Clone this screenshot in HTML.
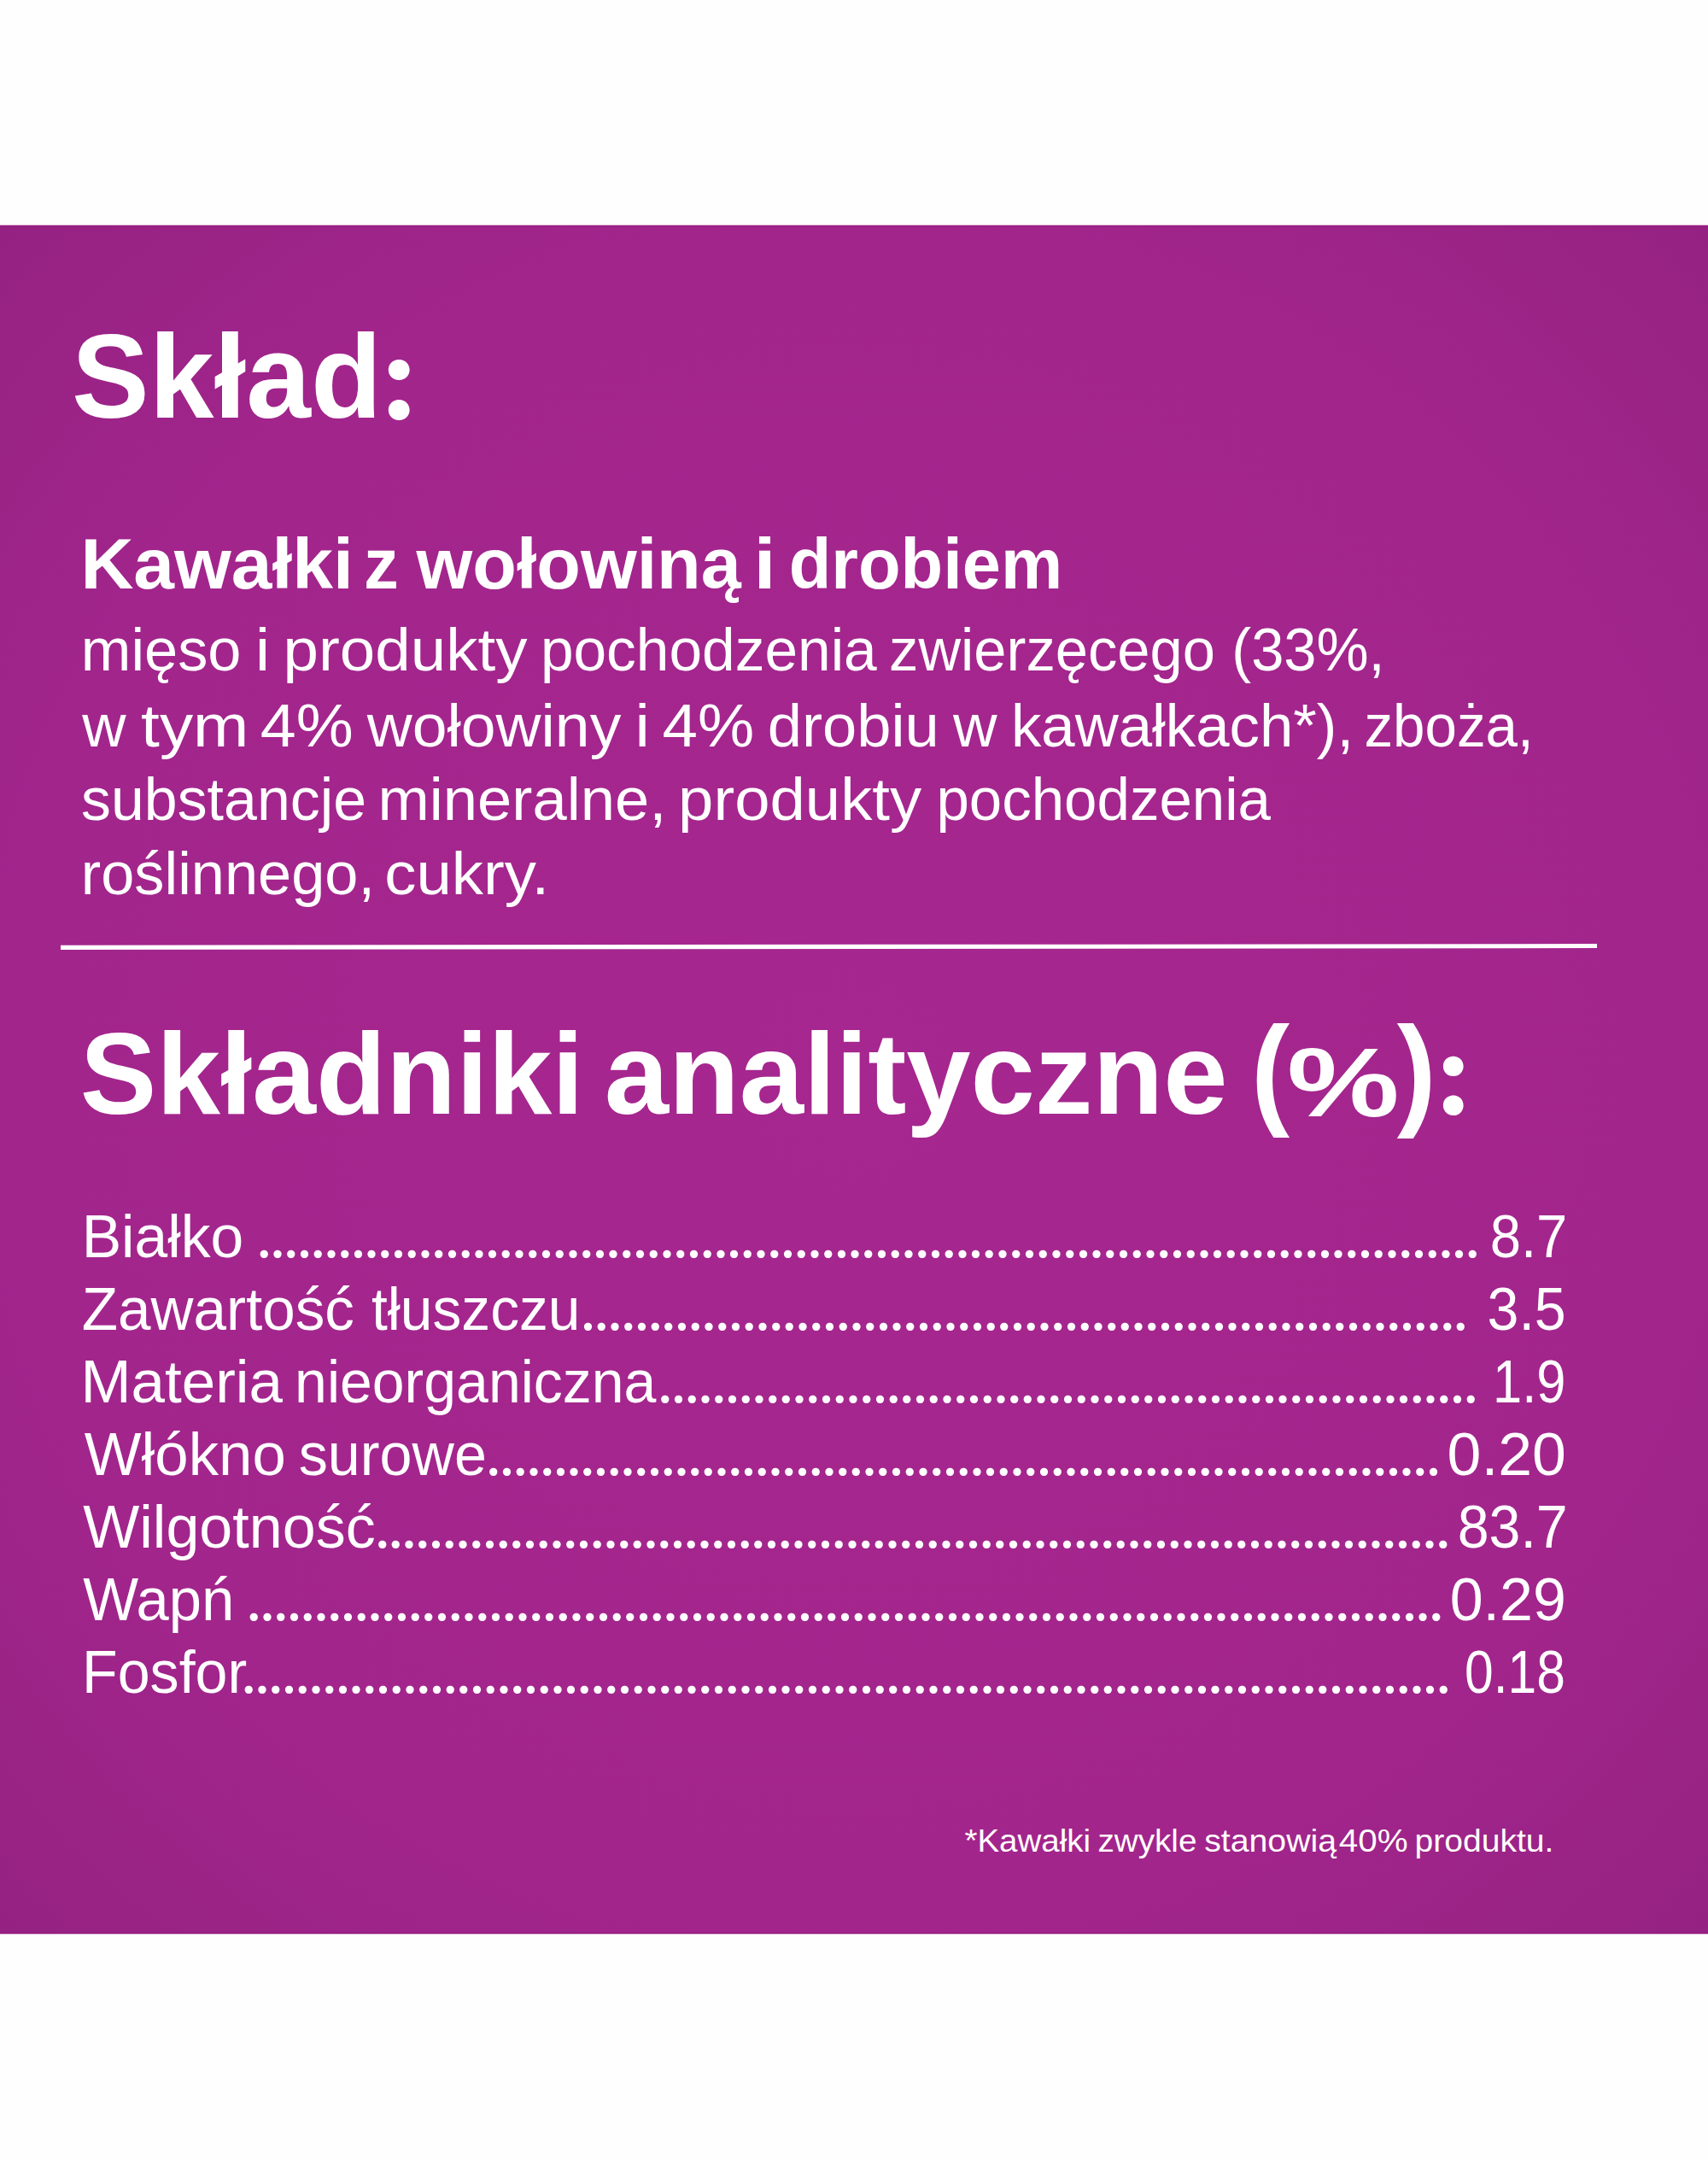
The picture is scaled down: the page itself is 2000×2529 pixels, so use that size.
<!DOCTYPE html>
<html lang="pl"><head><meta charset="utf-8"><title>Skład</title>
<style>
html,body{margin:0;padding:0;background:#fefefe;}
body{width:2000px;height:2529px;overflow:hidden;position:relative;}
svg{display:block;position:absolute;left:0;top:0;}
text{font-family:"Liberation Sans",Arial,sans-serif;fill:#fff;}
text.d{font-family:"Liberation Serif",serif;}
text.c{font-family:"Noto Sans CJK SC","Liberation Sans",sans-serif;}
</style></head><body>
<svg width="2000" height="2529" viewBox="0 0 2000 2529">
<defs>
<radialGradient id="bg" cx="1000" cy="1264" r="1414" gradientUnits="userSpaceOnUse">
<stop offset="0" stop-color="#a6278f"/>
<stop offset="0.7" stop-color="#a2258c"/>
<stop offset="1" stop-color="#952282"/>
</radialGradient>
</defs>
<rect x="0" y="263" width="2000" height="1" fill="#a3258d" fill-opacity="0.35"/>
<rect x="0" y="2264" width="2000" height="1" fill="#a3258d" fill-opacity="0.35"/>
<rect x="0" y="264" width="2000" height="2000" fill="url(#bg)"/>
<rect x="0" y="264" width="2000" height="1" fill="#921579"/>
<rect x="0" y="2263" width="2000" height="1" fill="#921579"/>
<polygon points="71,1106.7 1870,1105.1 1870,1110.1 71,1111.9" fill="#fff"/>
<text x="84.1" y="489" font-weight="bold" font-size="140" textLength="363.1" lengthAdjust="spacingAndGlyphs">Skład</text>
<text class="c" x="445.3" y="490.1" font-weight="bold" font-size="125.0" textLength="43.9" lengthAdjust="spacingAndGlyphs">:</text>
<text y="689" font-weight="bold" font-size="84"><tspan x="94.4" textLength="319.5" lengthAdjust="spacingAndGlyphs">Kawałki</tspan> <tspan x="426.1" textLength="40.8" lengthAdjust="spacingAndGlyphs">z</tspan> <tspan x="487.6" textLength="380.1" lengthAdjust="spacingAndGlyphs">wołowiną</tspan> <tspan x="882.5" textLength="26.1" lengthAdjust="spacingAndGlyphs">i</tspan> <tspan x="923.7" textLength="320.5" lengthAdjust="spacingAndGlyphs">drobiem</tspan></text>
<text y="785" font-size="70"><tspan x="94.8" textLength="187.7" lengthAdjust="spacingAndGlyphs">mięso</tspan> <tspan x="298.8" textLength="17.4" lengthAdjust="spacingAndGlyphs">i</tspan> <tspan x="331.6" textLength="285.8" lengthAdjust="spacingAndGlyphs">produkty</tspan> <tspan x="632.9" textLength="393.8" lengthAdjust="spacingAndGlyphs">pochodzenia</tspan> <tspan x="1041.1" textLength="381.9" lengthAdjust="spacingAndGlyphs">zwierzęcego</tspan> <tspan x="1442.3" textLength="179.4" lengthAdjust="spacingAndGlyphs">(33%,</tspan></text>
<text y="874" font-size="70"><tspan x="96.3" textLength="51.3" lengthAdjust="spacingAndGlyphs">w</tspan> <tspan x="165.1" textLength="126.3" lengthAdjust="spacingAndGlyphs">tym</tspan> <tspan x="304.8" textLength="108.9" lengthAdjust="spacingAndGlyphs">4%</tspan> <tspan x="429.8" textLength="297.5" lengthAdjust="spacingAndGlyphs">wołowiny</tspan> <tspan x="743.5" textLength="17.4" lengthAdjust="spacingAndGlyphs">i</tspan> <tspan x="775.5" textLength="107.6" lengthAdjust="spacingAndGlyphs">4%</tspan> <tspan x="898.7" textLength="201.0" lengthAdjust="spacingAndGlyphs">drobiu</tspan> <tspan x="1116.0" textLength="51.6" lengthAdjust="spacingAndGlyphs">w</tspan> <tspan x="1183.9" textLength="401.2" lengthAdjust="spacingAndGlyphs">kawałkach*),</tspan> <tspan x="1597.4" textLength="198.4" lengthAdjust="spacingAndGlyphs">zboża,</tspan></text>
<text y="960" font-size="70"><tspan x="95.0" textLength="334.1" lengthAdjust="spacingAndGlyphs">substancje</tspan> <tspan x="442.5" textLength="337.9" lengthAdjust="spacingAndGlyphs">mineralne,</tspan> <tspan x="794.1" textLength="285.1" lengthAdjust="spacingAndGlyphs">produkty</tspan> <tspan x="1096.4" textLength="391.6" lengthAdjust="spacingAndGlyphs">pochodzenia</tspan></text>
<text y="1047" font-size="70"><tspan x="94.8" textLength="344.2" lengthAdjust="spacingAndGlyphs">roślinnego,</tspan> <tspan x="450.3" textLength="192.8" lengthAdjust="spacingAndGlyphs">cukry.</tspan></text>
<text y="1304" font-weight="bold" font-size="135"><tspan x="93.7" textLength="589.8" lengthAdjust="spacingAndGlyphs">Składniki</tspan> <tspan x="707.7" textLength="729.8" lengthAdjust="spacingAndGlyphs">analityczne</tspan></text>
<text x="1464.9" y="1302.0" font-weight="bold" font-size="143.6" textLength="45.1" lengthAdjust="spacingAndGlyphs">(</text>
<text x="1507.0" y="1307.0" font-weight="bold" font-size="115.5" textLength="131.6" lengthAdjust="spacingAndGlyphs">%</text>
<text x="1635.7" y="1302.5" font-weight="bold" font-size="144.3" textLength="45.9" lengthAdjust="spacingAndGlyphs">)</text>
<text class="c" x="1680.8" y="1304.2" font-weight="bold" font-size="121.9" textLength="42.0" lengthAdjust="spacingAndGlyphs">:</text>
<text y="1472" font-size="70"><tspan x="95.7" textLength="189.5" lengthAdjust="spacingAndGlyphs">Białko</tspan></text>
<text class="d" x="299.6" y="1472" font-size="78" letter-spacing="-3.778">...........................................................................................</text>
<text x="1744.7" y="1472" font-size="70" textLength="90.7" lengthAdjust="spacingAndGlyphs">8.7</text>
<text y="1557" font-size="70"><tspan x="95.7" textLength="319.2" lengthAdjust="spacingAndGlyphs">Zawartość</tspan> <tspan x="435.0" textLength="244.5" lengthAdjust="spacingAndGlyphs">tłuszczu</tspan></text>
<text class="d" x="678.8" y="1557" font-size="78" letter-spacing="-3.780">..................................................................</text>
<text x="1741.5" y="1557" font-size="70" textLength="92.2" lengthAdjust="spacingAndGlyphs">3.5</text>
<text y="1642" font-size="70"><tspan x="94.4" textLength="236.6" lengthAdjust="spacingAndGlyphs">Materia</tspan> <tspan x="345.1" textLength="423.3" lengthAdjust="spacingAndGlyphs">nieorganiczna</tspan></text>
<text class="d" x="769.1" y="1642" font-size="78" letter-spacing="-3.777">.............................................................</text>
<text x="1748.1" y="1642" font-size="70" textLength="85.3" lengthAdjust="spacingAndGlyphs">1.9</text>
<text y="1727" font-size="70"><tspan x="98.8" textLength="236.0" lengthAdjust="spacingAndGlyphs">Włókno</tspan> <tspan x="349.7" textLength="220.2" lengthAdjust="spacingAndGlyphs">surowe</tspan></text>
<text class="d" x="568.0" y="1727" font-size="78" letter-spacing="-3.774">.......................................................................</text>
<text x="1694.6" y="1727" font-size="70" textLength="139.3" lengthAdjust="spacingAndGlyphs">0.20</text>
<text y="1812" font-size="70"><tspan x="97.2" textLength="342.5" lengthAdjust="spacingAndGlyphs">Wilgotność</tspan></text>
<text class="d" x="437.9" y="1812" font-size="78" letter-spacing="-3.778">................................................................................</text>
<text x="1706.7" y="1812" font-size="70" textLength="129.0" lengthAdjust="spacingAndGlyphs">83.7</text>
<text y="1897" font-size="70"><tspan x="97.2" textLength="177.0" lengthAdjust="spacingAndGlyphs">Wapń</tspan></text>
<text class="d" x="287.6" y="1897" font-size="78" letter-spacing="-3.767">.........................................................................................</text>
<text x="1697.7" y="1897" font-size="70" textLength="136.1" lengthAdjust="spacingAndGlyphs">0.29</text>
<text y="1982" font-size="70"><tspan x="96.0" textLength="193.2" lengthAdjust="spacingAndGlyphs">Fosfor</tspan></text>
<text class="d" x="281.6" y="1982" font-size="78" letter-spacing="-3.781">..........................................................................................</text>
<text x="1715.0" y="1982" font-size="70" textLength="117.8" lengthAdjust="spacingAndGlyphs">0.18</text>
<text y="2168" font-size="36"><tspan x="1129.4" textLength="147.7" lengthAdjust="spacingAndGlyphs">*Kawałki</tspan> <tspan x="1285.4" textLength="116.1" lengthAdjust="spacingAndGlyphs">zwykle</tspan> <tspan x="1410.2" textLength="154.8" lengthAdjust="spacingAndGlyphs">stanowią</tspan> <tspan x="1567.8" textLength="80.7" lengthAdjust="spacingAndGlyphs">40%</tspan> <tspan x="1656.6" textLength="162.7" lengthAdjust="spacingAndGlyphs">produktu.</tspan></text>
</svg>
</body></html>
